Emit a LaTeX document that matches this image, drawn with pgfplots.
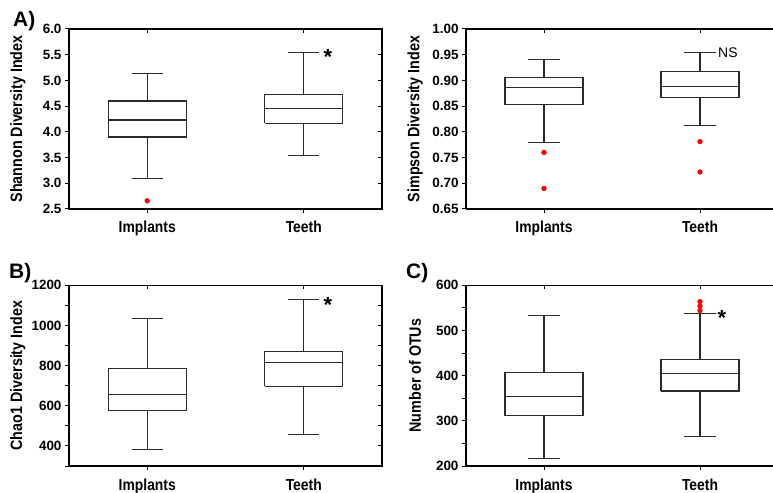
\documentclass[border=0pt]{standalone}
\usepackage{pgfplots}
\pgfplotsset{compat=1.18}
\usepackage{fontspec}
\setmainfont{Liberation Sans}
\newfontfamily\narrowfont{Liberation Sans}[FakeStretch=0.87]
\definecolor{boxc}{HTML}{2A2A2A}

\pgfplotsset{
 panel/.style={
   scale only axis, anchor=south west,
   xmin=-0.5, xmax=1.5,
   xtick={0,1}, xticklabels={Implants,Teeth},
   axis line style={line width=1.1bp, black},
   tick style={line width=1bp, black},
   major tick length=4bp,
   tick align=outside, xtick pos=left, ytick pos=left,
   /pgf/number format/assume math mode=true,
   /pgf/number format/1000 sep={},
   yticklabel style={font=\fontsize{13.5}{13.5}\selectfont\bfseries},
   xticklabel style={font=\narrowfont\fontsize{16}{16}\selectfont\bfseries, anchor=base, yshift=-20bp},
   every axis y label/.style={at={(axis description cs:0,0.5)}, xshift=-51bp, rotate=90, anchor=center, font=\narrowfont\fontsize{16.5}{16.5}\selectfont\bfseries},
   clip=false,
 },
 mirror/.style={
   scale only axis, anchor=south west,
   xmin=-0.5, xmax=1.5, xtick={0,1}, xticklabels={},
   yticklabels={},
   axis line style={draw=none},
   tick style={line width=1bp, black},
   major tick length=4bp,
   tick align=inside, xtick pos=right, ytick pos=right,
 },
 bx/.style={boxc, line width=1.1bp, solid, mark=none, unbounded coords=jump, line join=miter},
 outl/.style={only marks, mark=*, mark size=2.4bp, draw=red, fill=red},
}

\begin{document}
\begin{tikzpicture}
\path[use as bounding box] (0,0) rectangle (773bp,493bp);

% ---------- Panel A: Shannon ----------
\begin{axis}[panel, at={(69bp,284bp)}, width=313bp, height=180bp,
  ymin=2.5, ymax=6, ytick={2.5,3.0,3.5,4.0,4.5,5.0,5.5,6.0},
  /pgf/number format/fixed, /pgf/number format/fixed zerofill, /pgf/number format/precision=1,
  ylabel={Shannon Diversity Index}]
\addplot[bx] coordinates {(-0.25,3.90) (0.25,3.90) (0.25,4.60) (-0.25,4.60) (-0.25,3.90) (0,nan)
  (-0.25,4.23) (0.25,4.23) (0,nan) (0,4.60) (0,5.13) (0,nan) (-0.1,5.13) (0.1,5.13) (0,nan)
  (0,3.90) (0,3.09) (0,nan) (-0.1,3.09) (0.1,3.09)};
\addplot[outl] coordinates {(0,2.66)};
\addplot[bx] coordinates {(0.75,4.17) (1.25,4.17) (1.25,4.73) (0.75,4.73) (0.75,4.17) (1,nan)
  (0.75,4.46) (1.25,4.46) (1,nan) (1,4.73) (1,5.55) (1,nan) (0.9,5.55) (1.1,5.55) (1,nan)
  (1,4.17) (1,3.54) (1,nan) (0.9,3.54) (1.1,3.54)};
\end{axis}
\begin{axis}[mirror, at={(69bp,284bp)}, width=313bp, height=180bp,
  ymin=2.5, ymax=6, ytick={2.5,3.0,3.5,4.0,4.5,5.0,5.5,6.0}]
\end{axis}

% ---------- Panel Simpson ----------
\begin{axis}[panel, at={(466bp,284bp)}, width=307bp, height=180bp, xmax=1.468,
  axis x line*=box, axis y line*=left, y axis line style={-},
  ymin=0.65, ymax=1.0, ytick={0.65,0.70,0.75,0.80,0.85,0.90,0.95,1.00},
  /pgf/number format/fixed, /pgf/number format/fixed zerofill, /pgf/number format/precision=2,
  ylabel={Simpson Diversity Index}]
\addplot[bx] coordinates {(-0.25,0.853) (0.25,0.853) (0.25,0.905) (-0.25,0.905) (-0.25,0.853) (0,nan)
  (-0.25,0.886) (0.25,0.886) (0,nan) (0,0.905) (0,0.940) (0,nan) (-0.1,0.940) (0.1,0.940) (0,nan)
  (0,0.853) (0,0.780) (0,nan) (-0.1,0.780) (0.1,0.780)};
\addplot[outl] coordinates {(0,0.760) (0,0.690)};
\addplot[bx] coordinates {(0.75,0.866) (1.25,0.866) (1.25,0.917) (0.75,0.917) (0.75,0.866) (1,nan)
  (0.75,0.888) (1.25,0.888) (1,nan) (1,0.917) (1,0.955) (1,nan) (0.9,0.955) (1.1,0.955) (1,nan)
  (1,0.866) (1,0.812) (1,nan) (0.9,0.812) (1.1,0.812)};
\addplot[outl] coordinates {(1,0.781) (1,0.722)};
\end{axis}
\begin{axis}[mirror, at={(466bp,284bp)}, width=307bp, height=180bp, xmax=1.468,
  ymin=0.65, ymax=1.0, ytick=\empty]
\end{axis}

% ---------- Panel B: Chao1 ----------
\begin{axis}[panel, at={(69bp,27bp)}, width=313bp, height=180.7bp,
  ymin=300, ymax=1200, ytick={300,400,500,600,700,800,900,1000,1100,1200},
  yticklabels={,400,,600,,800,,1000,,1200},
  ylabel={Chao1 Diversity Index}]
\addplot[bx] coordinates {(-0.25,576) (0.25,576) (0.25,787) (-0.25,787) (-0.25,576) (0,nan)
  (-0.25,654) (0.25,654) (0,nan) (0,787) (0,1036) (0,nan) (-0.1,1036) (0.1,1036) (0,nan)
  (0,576) (0,382) (0,nan) (-0.1,382) (0.1,382)};
\addplot[bx] coordinates {(0.75,697) (1.25,697) (1.25,871) (0.75,871) (0.75,697) (1,nan)
  (0.75,817) (1.25,817) (1,nan) (1,871) (1,1128) (1,nan) (0.9,1128) (1.1,1128) (1,nan)
  (1,697) (1,458) (1,nan) (0.9,458) (1.1,458)};
\end{axis}
\begin{axis}[mirror, at={(69bp,27bp)}, width=313bp, height=180.7bp,
  ymin=300, ymax=1200, ytick={300,400,500,600,700,800,900,1000,1100,1200}]
\end{axis}

% ---------- Panel C: OTUs ----------
\begin{axis}[panel, at={(466bp,27bp)}, width=307bp, height=180.7bp, xmax=1.468,
  axis x line*=box, axis y line*=left, y axis line style={-},
  ymin=200, ymax=600, ytick={200,250,300,350,400,450,500,550,600},
  yticklabels={200,,300,,400,,500,,600},
  ylabel={Number of OTUs}]
\addplot[bx] coordinates {(-0.25,311) (0.25,311) (0.25,406) (-0.25,406) (-0.25,311) (0,nan)
  (-0.25,354) (0.25,354) (0,nan) (0,406) (0,533) (0,nan) (-0.1,533) (0.1,533) (0,nan)
  (0,311) (0,216) (0,nan) (-0.1,216) (0.1,216)};
\addplot[bx] coordinates {(0.75,366) (1.25,366) (1.25,436) (0.75,436) (0.75,366) (1,nan)
  (0.75,405) (1.25,405) (1,nan) (1,436) (1,538) (1,nan) (0.9,538) (1.1,538) (1,nan)
  (1,366) (1,266) (1,nan) (0.9,266) (1.1,266)};
\addplot[outl] coordinates {(1,544) (1,554) (1,564)};
\end{axis}
\begin{axis}[mirror, at={(466bp,27bp)}, width=307bp, height=180.7bp, xmax=1.468,
  ymin=200, ymax=600, ytick=\empty]
\end{axis}

% ---------- annotations ----------
\node[anchor=base west, inner sep=0pt, font=\fontsize{21}{21}\selectfont\bfseries] at (13bp,466.3bp) {A)};
\node[anchor=base west, inner sep=0pt, font=\fontsize{21}{21}\selectfont\bfseries] at (9bp,214.7bp) {B)};
\node[anchor=base west, inner sep=0pt, font=\fontsize{21}{21}\selectfont\bfseries] at (406bp,214.7bp) {C)};
\node[anchor=base, inner sep=0pt, font=\fontsize{22}{22}\selectfont\bfseries] at (328bp,428bp) {*};
\node[anchor=base, inner sep=0pt, font=\fontsize{22}{22}\selectfont\bfseries] at (328bp,180bp) {*};
\node[anchor=base, inner sep=0pt, font=\fontsize{22}{22}\selectfont\bfseries] at (722bp,167bp) {*};
\node[anchor=base west, inner sep=0pt, font=\fontsize{14}{14}\selectfont] at (718bp,435.7bp) {NS};
\end{tikzpicture}
\end{document}
